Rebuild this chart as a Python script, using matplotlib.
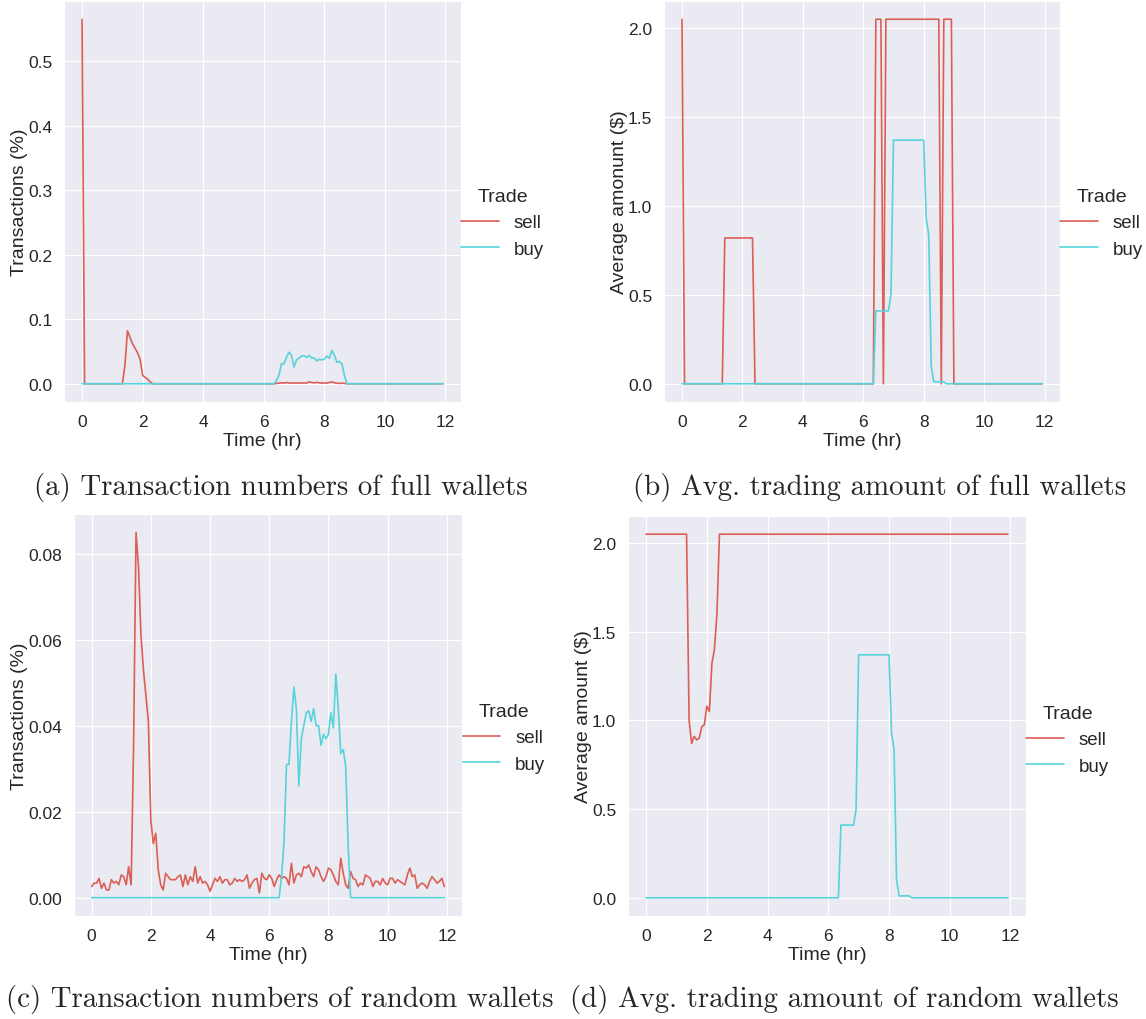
import matplotlib
matplotlib.use("Agg")
import matplotlib.pyplot as plt
import numpy as np
import seaborn as sns

sns.set_style("darkgrid")
plt.rcParams['font.family'] = ['Liberation Sans', 'DejaVu Sans']

# 5-minute bins over 12 hours
time_hr = np.arange(0, 720, 5) / 60.0

trades = ["sell", "buy"]
colors = sns.color_palette("hls", 2)

# (a) transaction numbers, full wallets
sell_tx_full = ([0.565] + [0.0] * 16 +
                [0.029, 0.082, 0.072, 0.062, 0.055, 0.048, 0.038, 0.013, 0.010, 0.007, 0.003, 0.0] +
                [0.0] * 48 +
                [0.0005, 0.001, 0.0015, 0.001, 0.002, 0.001, 0.0015, 0.001, 0.001, 0.0015,
                 0.001, 0.0015, 0.001, 0.003, 0.002, 0.0015, 0.002, 0.0015, 0.001, 0.0015,
                 0.001, 0.002, 0.003, 0.0015, 0.001, 0.0005, 0.001, 0.0005] +
                [0.0] * 39)

# buy transactions (same in full and random wallets)
buy_tx = ([0.0] * 77 +
          [0.005, 0.013, 0.031, 0.031, 0.041, 0.049, 0.044, 0.026, 0.037, 0.040,
           0.043, 0.0435, 0.041, 0.044, 0.040, 0.040, 0.0355, 0.038, 0.037, 0.038,
           0.043, 0.0395, 0.052, 0.044, 0.0335, 0.0345, 0.0305, 0.012] +
          [0.0] * 39)

# (c) transaction numbers, random wallets
sell_tx_rand = [
    0.0026, 0.0034, 0.0034, 0.0045, 0.0022, 0.0034, 0.0018, 0.0018, 0.0042, 0.0034, 0.0038, 0.0030,
    0.0053, 0.0049, 0.0030, 0.0072, 0.0030, 0.035, 0.085, 0.077, 0.061, 0.053, 0.047, 0.041,
    0.018, 0.0126, 0.015, 0.0065, 0.003, 0.0018, 0.0057, 0.0049, 0.0042, 0.0042, 0.0042, 0.0049,
    0.0053, 0.0026, 0.0053, 0.003, 0.0049, 0.0038, 0.0072, 0.0034, 0.0049, 0.0034, 0.0038, 0.003,
    0.0015, 0.003, 0.0045, 0.0038, 0.0049, 0.0034, 0.0042, 0.0042, 0.003, 0.0034, 0.0045, 0.0038,
    0.0042, 0.0038, 0.0042, 0.0053, 0.0022, 0.0034, 0.0042, 0.0045, 0.0011, 0.0057, 0.0045, 0.0042,
    0.0053, 0.0045, 0.0026, 0.0042, 0.0053, 0.0045, 0.0049, 0.0045, 0.003, 0.008, 0.0034, 0.0053,
    0.0057, 0.0049, 0.0072, 0.0069, 0.0076, 0.0061, 0.0049, 0.0072, 0.0065, 0.0049, 0.0038, 0.0049,
    0.0069, 0.0065, 0.0053, 0.0038, 0.003, 0.0092, 0.0057, 0.003, 0.0022, 0.0061, 0.0045, 0.0042,
    0.0026, 0.0034, 0.003, 0.0053, 0.0049, 0.0045, 0.0026, 0.0038, 0.0038, 0.003, 0.0045, 0.0034,
    0.003, 0.0045, 0.0045, 0.0034, 0.0042, 0.0038, 0.0034, 0.003, 0.0053, 0.0069, 0.0049, 0.0053,
    0.0022, 0.003, 0.0034, 0.003, 0.0022, 0.0038, 0.0049, 0.0042, 0.0034, 0.0038, 0.0045, 0.0026,
]

# (b) average amount, full wallets
sell_amt_full = ([2.05] + [0.0] * 16 + [0.82] * 12 + [0.0] * 48 +
                 [2.05] * 3 + [0.0] + [2.05] * 22 + [0.0] + [2.05] * 4 + [0.0] * 36)

# buy amount (same in full and random wallets)
buy_amt = ([0.0] * 77 + [0.41] * 6 + [0.50] + [1.37] * 13 +
           [0.93, 0.84, 0.10] + [0.011] * 5 + [0.0] * 39)

# (d) average amount, random wallets
sell_amt_rand = ([2.05] * 17 +
                 [1.0, 0.87, 0.91, 0.89, 0.90, 0.965, 0.975, 1.08, 1.05, 1.32, 1.40, 1.60] +
                 [2.05] * 115)

panels = [
    # rect (px: left, top, right, bottom), sell, buy, ylabel, caption, caption centre, legend y
    ((64, 2, 461, 403), sell_tx_full, buy_tx, "Transactions (%)",
     "(a) Transaction numbers of full wallets", (281, 488), 0.447),
    ((664, 2, 1060, 403), sell_amt_full, buy_amt, "Average amonunt ($)",
     "(b) Avg. trading amount of full wallets", (880, 488), 0.447),
    ((74, 515, 462, 917), sell_tx_rand, buy_tx, "Transactions (%)",
     "(c) Transaction numbers of random wallets", (280, 1000), 0.443),
    ((628, 517, 1026, 917), sell_amt_rand, buy_amt, "Average amount ($)",
     "(d) Avg. trading amount of random wallets", (844, 1000), 0.441),
]

W, H = 1146, 1020
fig = plt.figure(figsize=(W / 100, H / 100), dpi=100)

for (l, t, r, b), sell, buy, ylab, cap, (cx, cy), ly in panels:
    ax = fig.add_axes([l / W, 1 - b / H, (r - l) / W, (b - t) / H])
    ax.plot(time_hr, sell, color=colors[0], lw=1.2, label=trades[0])
    ax.plot(time_hr, buy, color=colors[1], lw=1.2, label=trades[1])
    ax.set_xticks(range(0, 13, 2))
    ax.tick_params(labelsize=12.5, pad=5, colors="#262626")
    ax.set_xlabel("Time (hr)", fontsize=14, labelpad=2, color="#262626")
    ax.set_ylabel(ylab, fontsize=14, labelpad=0, color="#262626")
    leg = ax.legend(loc="center left", bbox_to_anchor=(0.982, ly), frameon=False,
                    title="Trade", fontsize=13.5, title_fontsize=14,
                    borderaxespad=0, labelspacing=0.5)
    for line in leg.get_lines():
        line.set_linewidth(1.2)
    fig.text(cx / W, 1 - cy / H, cap, family="cmr10", fontsize=20.8,
             ha="center", va="center")

fig.savefig("out.png", dpi=100)
